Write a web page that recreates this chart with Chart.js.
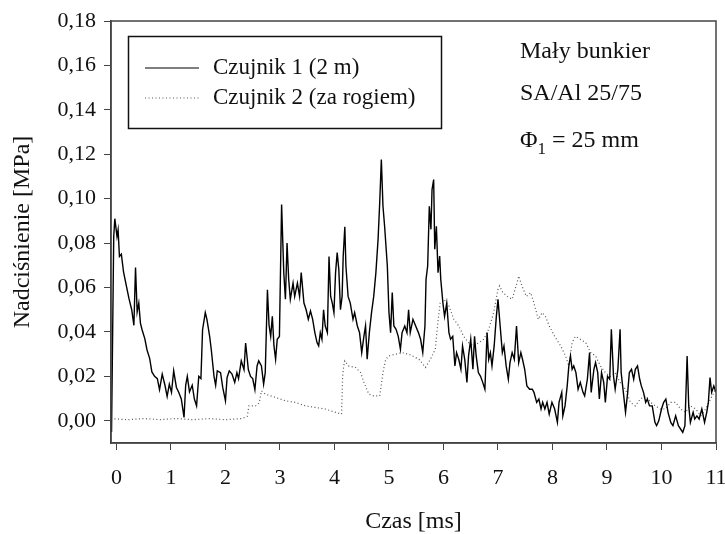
<!DOCTYPE html>
<html>
<head>
<meta charset="utf-8">
<script src="https://cdn.jsdelivr.net/npm/chart.js@4.4.0/dist/chart.umd.min.js"></script>
<style>
  html, body { margin: 0; padding: 0; background: #fff; }
  #chart { display: block; }
</style>
</head>
<body>
<canvas id="chart" width="725" height="534"></canvas>
<script>
// Czujnik 1 (2 m) - czas [ms] i nadciśnienie [MPa]
const time1 = [
  -0.10, -0.09, -0.05, -0.03, 0.01, 0.03, 0.055, 0.09, 0.13, 0.18, 0.23, 0.28, 0.32, 0.35, 0.38, 0.41, 0.44, 0.47, 0.52, 0.56,
  0.61, 0.65, 0.70, 0.75, 0.79, 0.84, 0.89, 0.93, 0.97, 1.01, 1.05, 1.10, 1.14, 1.19, 1.24, 1.27, 1.30, 1.34, 1.39, 1.43,
  1.47, 1.51, 1.55, 1.58, 1.63, 1.66, 1.71, 1.74, 1.79, 1.82, 1.85, 1.91, 1.95, 2.00, 2.03, 2.07, 2.12, 2.17, 2.21, 2.24,
  2.29, 2.34, 2.37, 2.42, 2.46, 2.50, 2.54, 2.58, 2.61, 2.66, 2.70, 2.73, 2.77, 2.80, 2.83, 2.86, 2.89, 2.92, 2.95, 2.99,
  3.03, 3.07, 3.10, 3.13, 3.16, 3.19, 3.24, 3.27, 3.32, 3.36, 3.39, 3.44, 3.48, 3.52, 3.56, 3.60, 3.64, 3.68, 3.71, 3.74,
  3.77, 3.80, 3.83, 3.87, 3.90, 3.93, 3.96, 3.99, 4.02, 4.05, 4.08, 4.11, 4.14, 4.16, 4.19, 4.21, 4.25, 4.29, 4.34, 4.37,
  4.42, 4.46, 4.50, 4.54, 4.57, 4.60, 4.64, 4.68, 4.72, 4.76, 4.80, 4.83, 4.86, 4.89, 4.92, 4.97, 5.00, 5.03, 5.06, 5.09,
  5.13, 5.17, 5.21, 5.24, 5.29, 5.33, 5.36, 5.39, 5.44, 5.49, 5.54, 5.58, 5.62, 5.66, 5.68, 5.71, 5.74, 5.77, 5.79, 5.82,
  5.84, 5.87, 5.90, 5.93, 5.95, 5.99, 6.02, 6.06, 6.10, 6.13, 6.17, 6.21, 6.24, 6.28, 6.32, 6.35, 6.39, 6.43, 6.46, 6.50,
  6.54, 6.57, 6.60, 6.64, 6.68, 6.72, 6.76, 6.80, 6.83, 6.86, 6.89, 6.93, 6.97, 7.00, 7.04, 7.08, 7.11, 7.15, 7.19, 7.22,
  7.26, 7.30, 7.34, 7.38, 7.42, 7.45, 7.49, 7.53, 7.58, 7.63, 7.66, 7.71, 7.75, 7.79, 7.82, 7.86, 7.90, 7.94, 7.99, 8.04,
  8.09, 8.12, 8.17, 8.19, 8.23, 8.27, 8.30, 8.33, 8.36, 8.39, 8.43, 8.47, 8.51, 8.56, 8.59, 8.64, 8.68, 8.71, 8.76, 8.79,
  8.83, 8.86, 8.90, 8.94, 8.97, 9.01, 9.05, 9.08, 9.12, 9.15, 9.20, 9.24, 9.26, 9.30, 9.34, 9.38, 9.41, 9.45, 9.49, 9.52,
  9.56, 9.60, 9.63, 9.67, 9.71, 9.74, 9.78, 9.83, 9.88, 9.91, 9.95, 10.00, 10.04, 10.08, 10.12, 10.17, 10.21, 10.26, 10.31, 10.35,
  10.39, 10.43, 10.47, 10.50, 10.53, 10.58, 10.61, 10.65, 10.69, 10.74, 10.79, 10.83, 10.86, 10.89, 10.92, 10.96, 11.00
];
const pressure1 = [
  0.008, -0.005, 0.083, 0.091, 0.083, 0.086, 0.074, 0.075, 0.067, 0.061, 0.055, 0.050, 0.043, 0.069, 0.049, 0.053, 0.044, 0.041, 0.037, 0.032,
  0.028, 0.022, 0.020, 0.019, 0.014, 0.021, 0.016, 0.011, 0.0165, 0.0128, 0.0225, 0.015, 0.013, 0.0098, 0.0015, 0.016, 0.020, 0.013, 0.016, 0.0098,
  0.0067, 0.020, 0.019, 0.041, 0.0487, 0.0457, 0.038, 0.032, 0.020, 0.016, 0.0225, 0.0217, 0.015, 0.009, 0.0195, 0.0225, 0.021, 0.0173, 0.0217, 0.019,
  0.027, 0.023, 0.035, 0.023, 0.020, 0.019, 0.014, 0.0247, 0.027, 0.0247, 0.0165, 0.0217, 0.059, 0.043, 0.038, 0.047, 0.0337, 0.0277, 0.0367, 0.038,
  0.0974, 0.0667, 0.0547, 0.080, 0.0637, 0.0547, 0.062, 0.056, 0.062, 0.056, 0.0667, 0.053, 0.050, 0.0457, 0.0494, 0.0457, 0.0397, 0.0352, 0.0337, 0.0397,
  0.0367, 0.050, 0.0427, 0.0397, 0.074, 0.056, 0.053, 0.0487, 0.0667, 0.0757, 0.068, 0.050, 0.056, 0.074, 0.0874, 0.0697, 0.056, 0.053, 0.0457, 0.0487,
  0.0427, 0.0397, 0.0307, 0.038, 0.0427, 0.0277, 0.0397, 0.0487, 0.056, 0.0667, 0.0817, 0.0982, 0.1176, 0.0966, 0.0876, 0.0697, 0.0487, 0.0397, 0.0577, 0.0427,
  0.0412, 0.038, 0.0322, 0.0397, 0.0427, 0.0397, 0.050, 0.0397, 0.0457, 0.0427, 0.0397, 0.0367, 0.0307, 0.0427, 0.0637, 0.0697, 0.0966, 0.0862, 0.1041, 0.1086,
  0.0772, 0.0876, 0.0667, 0.0742, 0.0637, 0.053, 0.047, 0.053, 0.0397, 0.0367, 0.038, 0.0247, 0.0307, 0.0277, 0.0232, 0.0337, 0.0277, 0.0173, 0.0292, 0.0367,
  0.0232, 0.038, 0.0292, 0.0217, 0.020, 0.0173, 0.0142, 0.0397, 0.0277, 0.0307, 0.0247, 0.0337, 0.047, 0.0547, 0.0427, 0.0307, 0.0337, 0.0247, 0.0187, 0.0262,
  0.0307, 0.0277, 0.0427, 0.0262, 0.0307, 0.0277, 0.0232, 0.0157, 0.0142, 0.0142, 0.0128, 0.0083, 0.0098, 0.0053, 0.0083, 0.0053, 0.0083, 0.003, 0.0083, 0.0053,
  -0.0007, 0.0083, 0.0128, 0.0022, 0.0067, 0.0157, 0.0247, 0.0292, 0.0232, 0.0247, 0.0217, 0.0142, 0.0173, 0.0128, 0.0112, 0.0187, 0.0307, 0.0128, 0.0232, 0.0262,
  0.0217, 0.0098, 0.0217, 0.0173, 0.0083, 0.020, 0.0187, 0.0412, 0.020, 0.0142, 0.0232, 0.0412, 0.0217, 0.0128, 0.0038, 0.0128, 0.0217, 0.0232, 0.0187, 0.0232,
  0.0247, 0.0187, 0.0157, 0.0128, 0.0083, 0.0098, 0.0067, 0.0067, -0.0007, -0.0022, 0.0, 0.0053, 0.0083, 0.0098, 0.0038, -0.0007, -0.0022, 0.0022, -0.0022, -0.0037,
  -0.0052, -0.0022, 0.0292, 0.0067, -0.0007, 0.0038, 0.0008, 0.0022, 0.0008, 0.0053, -0.0007, 0.0038, 0.0083, 0.0195, 0.0128, 0.0157, 0.0128
];

// Czujnik 2 (za rogiem)
const time2 = [
  -0.10, 0.20, 0.50, 0.80, 1.10, 1.40, 1.70, 2.00, 2.30, 2.40, 2.43, 2.55, 2.62, 2.66, 2.73, 2.92, 3.10, 3.28, 3.47, 3.65,
  3.83, 4.02, 4.13, 4.15, 4.17, 4.19, 4.26, 4.39, 4.48, 4.54, 4.63, 4.72, 4.83, 4.89, 4.94, 5.00, 5.12, 5.24, 5.36, 5.43,
  5.55, 5.67, 5.76, 5.85, 5.89, 5.91, 5.94, 6.01, 6.10, 6.19, 6.28, 6.37, 6.46, 6.56, 6.65, 6.74, 6.83, 6.92, 7.00, 7.03,
  7.09, 7.17, 7.26, 7.35, 7.38, 7.44, 7.52, 7.60, 7.66, 7.74, 7.81, 7.87, 7.94, 8.04, 8.15, 8.24, 8.30, 8.36, 8.42, 8.51,
  8.61, 8.70, 8.79, 8.88, 8.97, 9.06, 9.15, 9.24, 9.34, 9.43, 9.52, 9.61, 9.71, 9.80, 9.89, 9.98, 10.07, 10.17, 10.26, 10.35,
  10.44, 10.53, 10.63, 10.72, 10.81, 10.90, 10.99
];
const pressure2 = [
  0.001, 0.0005, 0.001, 0.0005, 0.001, 0.0005, 0.001, 0.0005, 0.001, 0.002, 0.0067, 0.0067, 0.008, 0.0135, 0.012, 0.0105, 0.009, 0.0083, 0.0067, 0.006,
  0.0053, 0.0038, 0.003, 0.020, 0.0247, 0.027, 0.0247, 0.024, 0.0217, 0.0173, 0.012, 0.0112, 0.0112, 0.0217, 0.0277, 0.0292, 0.030, 0.0307, 0.030, 0.0292,
  0.0277, 0.024, 0.0277, 0.0322, 0.0427, 0.047, 0.053, 0.0547, 0.0517, 0.0457, 0.0427, 0.038, 0.0352, 0.0337, 0.0352, 0.0367, 0.0412, 0.0487, 0.0592, 0.0607,
  0.0577, 0.056, 0.0547, 0.0622, 0.0652, 0.0607, 0.056, 0.0577, 0.053, 0.0457, 0.0487, 0.047, 0.0427, 0.038, 0.0337, 0.0292, 0.0247, 0.0352, 0.038, 0.0367,
  0.0352, 0.0307, 0.0292, 0.0247, 0.0217, 0.020, 0.0217, 0.0173, 0.0142, 0.0083, 0.0067, 0.0098, 0.0112, 0.0083, 0.0067, 0.0053, 0.0053, 0.0083, 0.0083, 0.0053,
  0.0038, 0.0067, 0.0053, 0.0022, 0.0053, 0.0098, 0.0142
];

const seriesLabels = ['Czujnik 1 (2 m)', 'Czujnik 2 (za rogiem)'];
const xTicks = [0, 1, 2, 3, 4, 5, 6, 7, 8, 9, 10, 11];
const yTicks = [0, 0.02, 0.04, 0.06, 0.08, 0.10, 0.12, 0.14, 0.16, 0.18];
const notes = ['Mały bunkier', 'SA/Al 25/75'];
const diameterNote = { symbol: 'Φ', index: '1', rest: ' = 25 mm' };

const SERIF = "'Liberation Serif', 'Times New Roman', serif";
const INK = '#111';

function toPoints(xs, ys) {
  return xs.map((x, i) => ({ x: x, y: ys[i] }));
}

// ramka wokół obszaru wykresu
const framePlugin = {
  id: 'frame',
  afterDraw(chart) {
    const { ctx, chartArea: a } = chart;
    ctx.save();
    ctx.strokeStyle = '#444';
    ctx.lineWidth = 1.5;
    ctx.strokeRect(a.left, a.top, a.right - a.left, a.bottom - a.top);
    ctx.restore();
  }
};

// legenda w ramce w lewym górnym rogu
const legendBoxPlugin = {
  id: 'legendBox',
  afterDraw(chart) {
    const ctx = chart.ctx;
    ctx.save();
    ctx.strokeStyle = '#111';
    ctx.lineWidth = 1.5;
    ctx.strokeRect(128.5, 36.5, 313, 92);
    ctx.font = '23px ' + SERIF;
    ctx.fillStyle = INK;
    ctx.textBaseline = 'middle';
    const rows = [68, 98];
    chart.data.datasets.forEach((ds, i) => {
      const y = rows[i];
      ctx.beginPath();
      ctx.strokeStyle = ds.borderColor;
      ctx.lineWidth = 1.2;
      ctx.setLineDash(ds.borderDash || []);
      ctx.moveTo(145, y);
      ctx.lineTo(199, y);
      ctx.stroke();
      ctx.setLineDash([]);
      ctx.fillText(ds.label, 213, y);
    });
    ctx.restore();
  }
};

// opis próby w prawym górnym rogu
const notesPlugin = {
  id: 'notes',
  afterDraw(chart) {
    const ctx = chart.ctx;
    const x = 520;
    ctx.save();
    ctx.fillStyle = INK;
    ctx.textBaseline = 'alphabetic';
    ctx.font = '24px ' + SERIF;
    ctx.fillText(notes[0], x, 58);
    ctx.fillText(notes[1], x, 100);
    ctx.fillText(diameterNote.symbol, x, 147);
    let w = ctx.measureText(diameterNote.symbol).width;
    ctx.font = '17px ' + SERIF;
    ctx.fillText(diameterNote.index, x + w, 154);
    w += ctx.measureText(diameterNote.index).width;
    ctx.font = '24px ' + SERIF;
    ctx.fillText(diameterNote.rest, x + w, 147);
    ctx.restore();
  }
};

new Chart(document.getElementById('chart'), {
  type: 'line',
  data: {
    datasets: [
      {
        label: seriesLabels[0],
        data: toPoints(time1, pressure1),
        borderColor: '#000',
        borderWidth: 1.4,
        pointRadius: 0,
        tension: 0,
        fill: false
      },
      {
        label: seriesLabels[1],
        data: toPoints(time2, pressure2),
        borderColor: '#555',
        borderWidth: 1.2,
        borderDash: [1, 2.5],
        pointRadius: 0,
        tension: 0,
        fill: false
      }
    ]
  },
  options: {
    responsive: false,
    animation: false,
    devicePixelRatio: 1,
    layout: { padding: { top: 21, right: 9, left: 0, bottom: 0 } },
    plugins: {
      legend: { display: false },
      tooltip: { enabled: false }
    },
    scales: {
      x: {
        type: 'linear',
        min: -0.1,
        max: 11,
        afterBuildTicks: scale => { scale.ticks = xTicks.map(v => ({ value: v })); },
        afterFit: scale => { scale.height = 91; scale.paddingLeft = 0; scale.paddingRight = 0; },
        ticks: {
          color: INK,
          padding: 15,
          maxRotation: 0,
          font: { family: SERIF, size: 22 },
          callback: v => String(v)
        },
        grid: { drawOnChartArea: false, drawTicks: true, tickLength: 7, color: '#444', lineWidth: 1 },
        border: { display: true, color: '#444', width: 1.5 },
        title: {
          display: true,
          text: 'Czas [ms]',
          color: INK,
          font: { family: SERIF, size: 24, lineHeight: 1 },
          padding: { top: 0, bottom: 0 }
        }
      },
      y: {
        min: -0.01,
        max: 0.18,
        afterBuildTicks: scale => { scale.ticks = yTicks.map(v => ({ value: v })); },
        afterFit: scale => { scale.width = 111; scale.paddingTop = 0; scale.paddingBottom = 0; },
        ticks: {
          color: INK,
          padding: 8,
          font: { family: SERIF, size: 22 },
          callback: v => v.toFixed(2).replace('.', ',')
        },
        grid: { drawOnChartArea: false, drawTicks: true, tickLength: 7, color: '#444', lineWidth: 1 },
        border: { display: true, color: '#444', width: 1.5 },
        title: {
          display: true,
          text: 'Nadciśnienie [MPa]',
          color: INK,
          font: { family: SERIF, size: 24, lineHeight: 1.2 },
          padding: { top: 8, bottom: 0 }
        }
      }
    }
  },
  plugins: [framePlugin, legendBoxPlugin, notesPlugin]
});
</script>
</body>
</html>
